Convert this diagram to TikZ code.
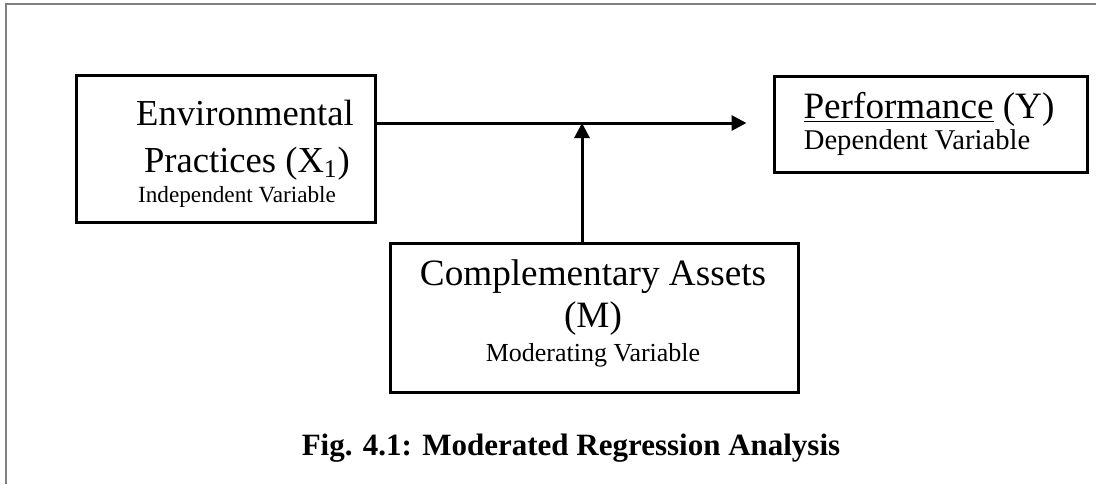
\documentclass[tikz,border=0pt]{standalone}
\usepackage{fontspec}
\setmainfont{Liberation Serif}
\usetikzlibrary{arrows.meta}
\tikzset{
  varbox/.style={draw=black, line width=1.5pt, inner sep=0pt},
  bigtxt/.style={anchor=base, inner sep=0pt, font=\fontsize{18.3}{20}\selectfont},
  link/.style={line width=1.5pt, -{Triangle[length=7.5pt,width=7.5pt]}},
  frameline/.style={draw=black!50, line width=1.2pt}
}
\begin{document}
\begin{tikzpicture}[x=0.5pt,y=-0.5pt]
\useasboundingbox (0,0) rectangle (1096,484);
% page frame (top and left rule)
\draw[frameline] (6,484) -- (6,4) -- (1096,4);

% boxes
\node[varbox, minimum width=149.5pt, minimum height=73.5pt] (indep) at (225.5,148.5) {};
\node[varbox, minimum width=156.5pt, minimum height=48pt] (perf) at (930.5,124) {};
\node[varbox, minimum width=204pt, minimum height=74.5pt] (moder) at (594,317.5) {};

% independent variable
\node[bigtxt] (envA) at (245,125) {Environmental};
\node[bigtxt] (envB) at (247,172) {Practices (X\textsubscript{1})};
\node[anchor=base, inner sep=0pt, font=\fontsize{11.6}{13}\selectfont] (envC) at (237,202) {Independent Variable};

% dependent variable
\node[bigtxt, font=\fontsize{18.6}{20}\selectfont] (perfA) at (929,118) {\underline{Performance} (Y)};
\node[anchor=base, inner sep=0pt, font=\fontsize{14.3}{16}\selectfont] (perfB) at (917,149) {Dependent Variable};

% moderating variable
\node[bigtxt, font=\fontsize{18.6}{20}\selectfont] (modA) at (593,285) {Complementary Assets};
\node[bigtxt, font=\fontsize{18.6}{20}\selectfont] (modB) at (593,327) {(M)};
\node[anchor=base, inner sep=0pt, font=\fontsize{13}{15}\selectfont] (modC) at (593,361) {Moderating Variable};

% connectors
\coordinate (join) at (582,123);
\draw[link, shorten >=13pt] (indep.east |- join) -- (perf.west |- join);
\draw[link] (join |- moder.north) -- (join);

% caption
\node[anchor=base, inner sep=0pt, font=\fontsize{15.5}{17}\selectfont\bfseries] (cap) at (571,455) {Fig. 4.1: Moderated Regression Analysis};
\end{tikzpicture}
\end{document}
